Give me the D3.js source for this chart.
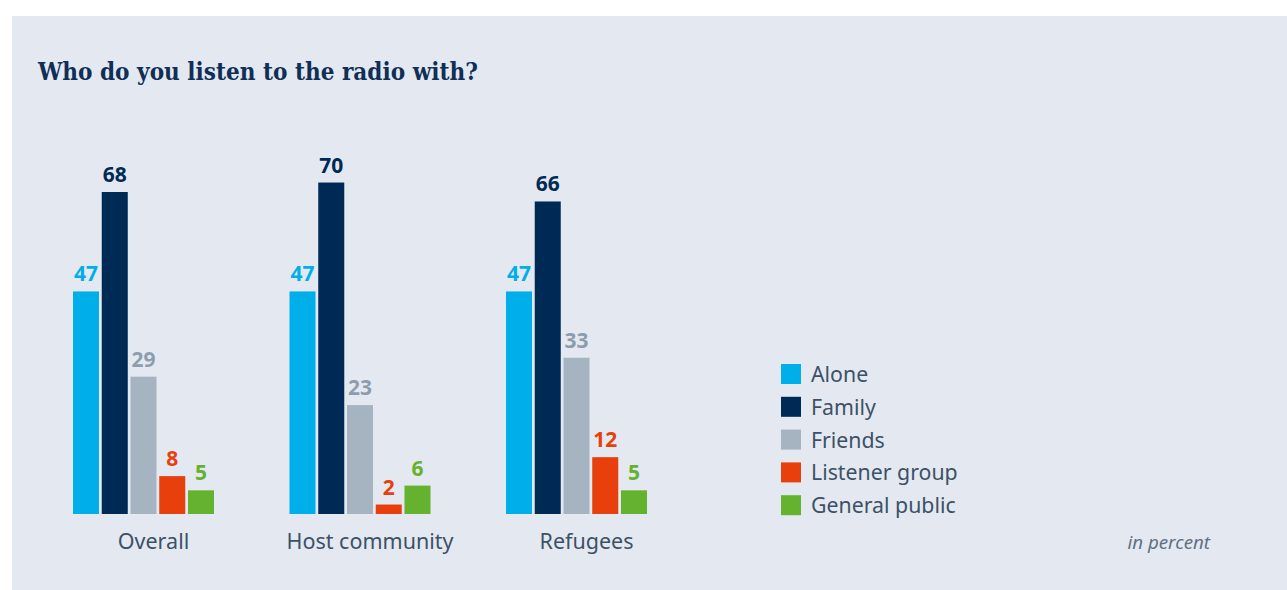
<!DOCTYPE html>
<html>
<head>
<meta charset="utf-8">
<script src="https://cdn.jsdelivr.net/npm/d3@7"></script>
<style>
  html, body { margin: 0; padding: 0; background: #ffffff; }
  svg { display: block; }
</style>
</head>
<body>
<svg id="chart" width="1287" height="590"></svg>
<script>
// Survey groups and answer categories
const groups = ["Overall", "Host community", "Refugees"];
const answers = ["Alone", "Family", "Friends", "Listener group", "General public"];

// Share of respondents (in percent), one array per answer
const alone = [47, 47, 47];
const family = [68, 70, 66];
const friends = [29, 23, 33];
const listenerGroup = [8, 2, 12];
const generalPublic = [5, 6, 5];

const seriesValues = [alone, family, friends, listenerGroup, generalPublic];

const barColors = ["#00aee9", "#002a56", "#a6b3c0", "#e7400c", "#64b22e"];
const labelColors = ["#00aee9", "#002a56", "#8e9dad", "#e7400c", "#64b22e"];

const svg = d3.select("#chart");

// Panel background
svg.append("rect")
  .attr("x", 12).attr("y", 16)
  .attr("width", 1287 - 12).attr("height", 590 - 16)
  .attr("fill", "#e4e9f1");

// Title, sized so that it spans the intended width
const title = svg.append("text")
  .attr("x", 38).attr("y", 80)
  .attr("font-family", "'DejaVu Serif Condensed', 'DejaVu Serif', serif")
  .attr("font-stretch", "condensed")
  .attr("font-weight", "bold")
  .attr("font-size", 22)
  .attr("fill", "#0f2f57")
  .text("Who do you listen to the radio with?");
const tw = title.node().getComputedTextLength();
title.attr("font-size", 22 * 440 / tw);

// Scales
const x0 = d3.scaleBand()
  .domain(groups)
  .range([73, 647])
  .paddingInner(0.3487)
  .paddingOuter(0);

const x1 = d3.scaleBand()
  .domain(answers)
  .range([0, x0.bandwidth()])
  .paddingInner(0.095);

const y = d3.scaleLinear()
  .domain([0, 68])
  .range([514, 192]);

const rows = [];
groups.forEach((g, gi) => {
  answers.forEach((a, ai) => {
    rows.push({ group: g, answer: a, ai, value: seriesValues[ai][gi] });
  });
});

const gGroups = svg.append("g");

gGroups.selectAll("rect.bar")
  .data(rows)
  .join("rect")
  .attr("class", "bar")
  .attr("x", d => x0(d.group) + x1(d.answer))
  .attr("y", d => y(d.value))
  .attr("width", x1.bandwidth())
  .attr("height", d => y(0) - y(d.value))
  .attr("fill", d => barColors[d.ai]);

gGroups.selectAll("text.val")
  .data(rows)
  .join("text")
  .attr("class", "val")
  .attr("x", d => x0(d.group) + x1(d.answer) + x1.bandwidth() / 2)
  .attr("y", d => y(d.value) - 10)
  .attr("text-anchor", "middle")
  .attr("font-family", "'Noto Sans', 'Open Sans', sans-serif")
  .attr("font-weight", "bold")
  .attr("font-size", 21)
  .attr("fill", d => labelColors[d.ai])
  .text(d => d.value);

// Category axis labels
const xAxis = d3.axisBottom(x0).tickSize(0).tickPadding(0);
const axisG = svg.append("g")
  .attr("transform", `translate(0, ${y(0)})`)
  .call(xAxis);
axisG.select(".domain").remove();
axisG.selectAll("text")
  .attr("y", 35)
  .attr("dy", 0)
  .attr("dx", 10)
  .attr("font-family", "'Noto Sans', 'Open Sans', sans-serif")
  .attr("font-size", 21.5)
  .attr("fill", "#3c5166");

// Legend
const legend = svg.append("g").attr("transform", "translate(781, 364)");
const item = legend.selectAll("g")
  .data(answers)
  .join("g")
  .attr("transform", (d, i) => `translate(0, ${i * 32.8})`);
item.append("rect")
  .attr("width", 20).attr("height", 20)
  .attr("fill", (d, i) => barColors[i]);
item.append("text")
  .attr("x", 30).attr("y", 18)
  .attr("font-family", "'Noto Sans', 'Open Sans', sans-serif")
  .attr("font-size", 21.3)
  .attr("fill", "#3c5166")
  .text(d => d);

// Unit note
svg.append("text")
  .attr("x", 1210).attr("y", 549)
  .attr("text-anchor", "end")
  .attr("font-family", "'Noto Sans', 'Open Sans', sans-serif")
  .attr("font-style", "italic")
  .attr("font-size", 18.7)
  .attr("fill", "#5e7184")
  .text("in percent");
</script>
</body>
</html>
